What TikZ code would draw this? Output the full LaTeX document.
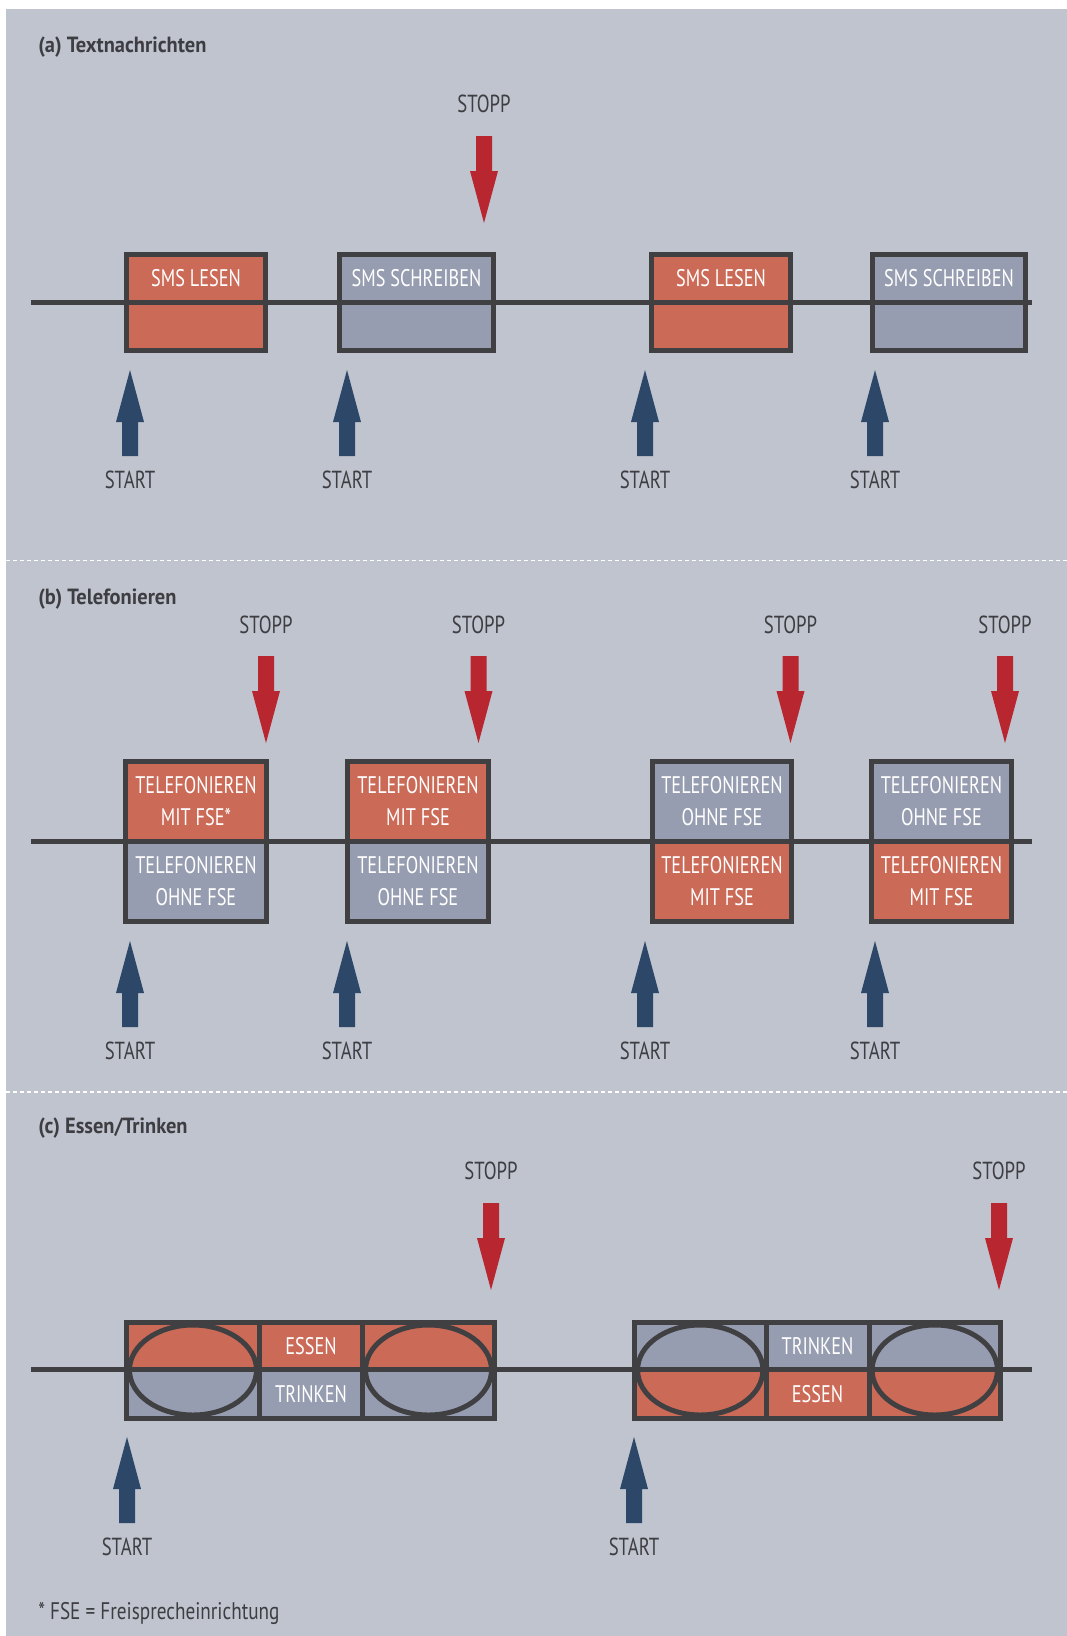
\documentclass[tikz,border=0pt]{standalone}
\usepackage{fontspec}
\setmainfont{PT Sans}[FakeStretch=0.76]
\newfontfamily\ptcond{PT Sans}[FakeStretch=0.76]
\newfontfamily\pttitle{PT Sans}[FakeStretch=0.93]
\newfontfamily\ptfoot{PT Sans}[FakeStretch=0.8]
\usetikzlibrary{shapes.geometric}
\definecolor{bgc}{RGB}{192,196,207}
\definecolor{grayc}{RGB}{151,157,176}
\definecolor{redc}{RGB}{203,106,87}
\definecolor{bordc}{RGB}{64,64,67}
\definecolor{stopc}{RGB}{184,38,47}
\definecolor{startc}{RGB}{44,71,103}
\definecolor{txtc}{RGB}{62,62,66}
\newcommand\boxfont{\ptcond\fontsize{18}{24}\selectfont}
\newcommand\lblfont{\ptcond\fontsize{18.5}{22}\selectfont}
\newcommand\titfont{\pttitle\bfseries\fontsize{16.5}{19}\selectfont}
\newcommand\fnfont{\ptfoot\fontsize{18}{21}\selectfont}
\tikzset{
 cell/.style={draw=bordc, line width=3.75pt, inner sep=0pt, text=white, font=\boxfont, align=center},
 redcell/.style={cell, fill=redc},
 graycell/.style={cell, fill=grayc},
 timeline/.style={draw=bordc, line width=3.75pt},
 lbl/.style={text=txtc, font=\lblfont, inner sep=0pt},
 titlelbl/.style={text=txtc, font=\titfont, anchor=west, inner sep=0pt},
 fnote/.style={text=txtc, font=\fnfont, anchor=west, inner sep=0pt},
 sepline/.style={draw=white, line width=0.9pt, dash pattern=on 3pt off 2.25pt},
 oval/.style={ellipse, draw=bordc, line width=3.75pt, inner sep=0pt},
 atop/.style={minimum height=35.625pt}, abot/.style={minimum height=36.375pt},
 btop/.style={minimum height=59.625pt}, bbot/.style={minimum height=60.375pt},
 ctop/.style={minimum height=35.25pt}, cbot/.style={minimum height=36.75pt},
 pics/startarrow/.style={code={\fill[startc] (0,0) -- (14,52) -- (8,52) -- (8,86) -- (-8,86) -- (-8,52) -- (-14,52) -- cycle;}},
 pics/stoparrow/.style={code={\fill[stopc] (0,0) -- (14,-52) -- (8,-52) -- (8,-87) -- (-8,-87) -- (-8,-52) -- (-14,-52) -- cycle;}},
}
\begin{document}
\begin{tikzpicture}[x=0.75pt,y=-0.75pt]
\useasboundingbox (0,0) rectangle (1067,1636);
\fill[white] (0,0) rectangle (1067,1636);
\fill[bgc] (6,9) rectangle (1067,1636);
% separators
\coordinate (s1L) at (6,560.5); \coordinate (s1R) at (1067,560.5);
\coordinate (s2L) at (6,1092); \coordinate (s2R) at (1067,1092);
\draw[sepline] (s1L) -- (s1R);
\draw[sepline] (s2L) -- (s2R);

% ===== (a) =====
\node[titlelbl] (tA) at (38,47) {(a) Textnachrichten};
\coordinate (aL) at (31,302); \coordinate (aR) at (1032,302);
\draw[timeline] (aL) -- (aR);
\node[redcell, atop, minimum width=104.25pt] (a1t) at (196,278.25) {SMS LESEN};
\node[redcell, abot, minimum width=104.25pt] (a1b) at (196,326.25) {};
\node[graycell, atop, minimum width=115.5pt] (a2t) at (416.5,278.25) {SMS SCHREIBEN};
\node[graycell, abot, minimum width=115.5pt] (a2b) at (416.5,326.25) {};
\node[redcell, atop, minimum width=104.25pt] (a3t) at (721,278.25) {SMS LESEN};
\node[redcell, abot, minimum width=104.25pt] (a3b) at (721,326.25) {};
\node[graycell, atop, minimum width=114.75pt] (a4t) at (949,278.25) {SMS SCHREIBEN};
\node[graycell, abot, minimum width=114.75pt] (a4b) at (949,326.25) {};
\node[lbl] (aStop) at (484,104) {STOPP};
\pic (aStopArr) at (484,223) {stoparrow};
\foreach \x/\n in {130/1,347/2,645/3,875/4}{
  \pic (aStartArr\n) at (\x,370) {startarrow};
  \node[lbl] (aStart\n) at (\x,480) {START};
}

% ===== (b) =====
\node[titlelbl] (tB) at (38,599) {(b) Telefonieren};
\coordinate (bL) at (31,841); \coordinate (bR) at (1032,841);
\draw[timeline] (bL) -- (bR);
\node[redcell, btop, minimum width=105.75pt] (b1t) at (196,801.25) {TELEFONIEREN\\MIT FSE*};
\node[graycell, bbot, minimum width=105.75pt] (b1b) at (196,881.25) {TELEFONIEREN\\OHNE FSE};
\node[redcell, btop, minimum width=105.75pt] (b2t) at (418,801.25) {TELEFONIEREN\\MIT FSE};
\node[graycell, bbot, minimum width=105.75pt] (b2b) at (418,881.25) {TELEFONIEREN\\OHNE FSE};
\node[graycell, btop, minimum width=104.25pt] (b3t) at (722,801.25) {TELEFONIEREN\\OHNE FSE};
\node[redcell, bbot, minimum width=104.25pt] (b3b) at (722,881.25) {TELEFONIEREN\\MIT FSE};
\node[graycell, btop, minimum width=105pt] (b4t) at (941.5,801.25) {TELEFONIEREN\\OHNE FSE};
\node[redcell, bbot, minimum width=105pt] (b4b) at (941.5,881.25) {TELEFONIEREN\\MIT FSE};
\foreach \x/\n in {266/1,478.5/2,790.5/3,1005/4}{
  \node[lbl] (bStop\n) at (\x,625) {STOPP};
  \pic (bStopArr\n) at (\x,743) {stoparrow};
}
\foreach \x/\n in {130/1,347/2,645/3,875/4}{
  \pic (bStartArr\n) at (\x,941) {startarrow};
  \node[lbl] (bStart\n) at (\x,1051) {START};
}

% ===== (c) =====
\node[titlelbl] (tC) at (38,1128) {(c) Essen/Trinken};
\coordinate (cL) at (31,1369.5); \coordinate (cR) at (1032,1369.5);
\draw[timeline] (cL) -- (cR);
% box c1
\node[redcell, ctop, minimum width=99.75pt] (c1lt) at (193,1346) {};
\node[redcell, ctop, minimum width=77.25pt] (c1mt) at (311,1346) {ESSEN};
\node[redcell, ctop, minimum width=99pt] (c1rt) at (428.5,1346) {};
\node[graycell, cbot, minimum width=99.75pt] (c1lb) at (193,1394) {};
\node[graycell, cbot, minimum width=77.25pt] (c1mb) at (311,1394) {TRINKEN};
\node[graycell, cbot, minimum width=99pt] (c1rb) at (428.5,1394) {};
\node[oval, minimum width=95.25pt, minimum height=67.5pt] (c1e1) at (193,1370) {};
\node[oval, minimum width=94.5pt, minimum height=67.5pt] (c1e2) at (428.5,1370) {};
% box c2
\node[graycell, ctop, minimum width=98.625pt] (c2lt) at (700.25,1346) {};
\node[graycell, ctop, minimum width=77.25pt] (c2mt) at (817.5,1346) {TRINKEN};
\node[graycell, ctop, minimum width=98.625pt] (c2rt) at (934.75,1346) {};
\node[redcell, cbot, minimum width=98.625pt] (c2lb) at (700.25,1394) {};
\node[redcell, cbot, minimum width=77.25pt] (c2mb) at (817.5,1394) {ESSEN};
\node[redcell, cbot, minimum width=98.625pt] (c2rb) at (934.75,1394) {};
\node[oval, minimum width=94pt, minimum height=67.5pt] (c2e1) at (700.25,1370) {};
\node[oval, minimum width=94pt, minimum height=67.5pt] (c2e2) at (934.75,1370) {};
\foreach \x/\n in {491/1,999/2}{
  \node[lbl] (cStop\n) at (\x,1171) {STOPP};
  \pic (cStopArr\n) at (\x,1290) {stoparrow};
}
\foreach \x/\n in {127/1,634/2}{
  \pic (cStartArr\n) at (\x,1437) {startarrow};
  \node[lbl] (cStart\n) at (\x,1547) {START};
}
\node[fnote] (fn) at (38,1613) {* FSE = Freisprecheinrichtung};
\end{tikzpicture}
\end{document}
